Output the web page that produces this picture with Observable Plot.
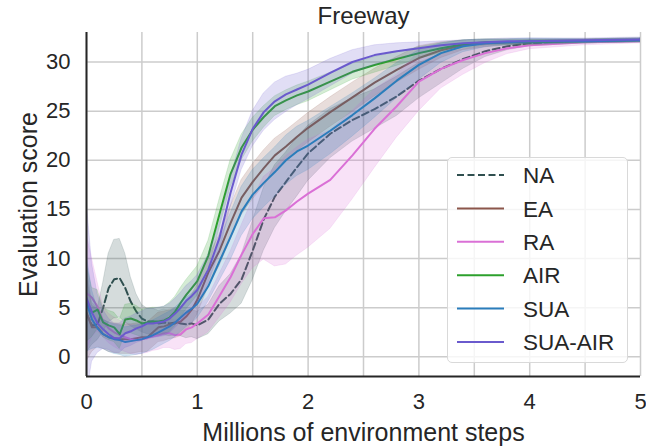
<!DOCTYPE html>
<html><head><meta charset="utf-8">
<script src="https://cdn.jsdelivr.net/npm/d3@7"></script>
<script src="https://cdn.jsdelivr.net/npm/@observablehq/plot@0.6"></script>
<style>
body{margin:0;background:#fff;}
#wrap{position:relative;width:646px;height:446px;font-family:"Liberation Sans",Arial,sans-serif;}
#legend{position:absolute;left:447px;top:157px;width:181px;height:206px;box-sizing:border-box;border:1.3px solid #d9d9d9;border-radius:5px;background:rgba(255,255,255,0.8);}
</style></head><body><div id="wrap"></div>
<script>
const chartTitle = "Freeway";
const xLabel = "Millions of environment steps";
const yLabel = "Evaluation score";
const xTicks = [0, 1, 2, 3, 4, 5];
const xGrid = [0, 0.5, 1, 1.5, 2, 2.5, 3, 3.5, 4, 4.5, 5];
const yTicks = [0, 5, 10, 15, 20, 25, 30];

const steps = [0,0.05,0.1,0.15,0.2,0.25,0.3,0.35,0.4,0.45,0.5,0.55,0.6,0.65,0.7,0.75,0.8,0.85,0.9,0.95,1.0,
  1.1,1.2,1.3,1.4,1.5,1.6,1.7,1.8,1.9,2.0,
  2.2,2.4,2.6,2.8,3.0,3.2,3.4,3.6,3.8,4.0,
  4.5,5.0];

const seriesNames = ["NA", "EA", "RA", "AIR", "SUA", "SUA-AIR"];
const seriesColors = ["#2f4f4f", "#8c564b", "#da70d6", "#2ca02c", "#2a7dbb", "#6a5acd"];

const meanNA = [4.4,3.2,3.3,5.0,7.0,7.9,8.0,7.0,5.6,4.6,3.9,3.6,3.6,3.4,3.5,3.4,3.5,3.4,3.3,3.4,3.2,
  3.8,5.4,6.4,7.9,10.8,14.0,16.3,17.8,19.3,20.7,
  22.7,24.1,25.2,26.5,28.1,29.3,30.3,31.1,31.6,31.9,
  32.1,32.2];
const spreadNA = [4.0,2.0,1.6,2.5,3.5,4.0,4.0,3.5,2.5,1.8,1.4,1.3,1.3,1.3,1.3,1.3,1.3,1.3,1.4,1.4,1.4,
  1.5,1.8,2.0,2.5,3.0,3.2,3.2,3.0,3.0,2.8,
  2.5,2.2,2.0,2.0,1.8,1.5,1.0,0.6,0.4,0.3,
  0.2,0.2];

const meanEA = [4.5,3.0,3.0,2.3,2.0,1.9,1.8,1.8,1.8,1.9,2.0,2.0,2.5,3.0,3.1,3.3,3.4,3.6,4.1,4.8,5.8,
  8.6,10.8,13.6,16.2,17.8,19.2,20.5,21.4,22.4,23.3,
  24.9,26.4,27.9,29.2,30.4,31.2,31.7,31.9,32.0,32.0,
  32.1,32.2];
const spreadEA = [5.0,2.5,2.0,1.5,1.5,1.5,1.5,1.5,1.5,1.5,1.5,1.5,1.5,1.5,1.5,1.5,1.5,1.5,1.5,1.5,1.5,
  1.5,1.6,1.7,1.8,1.8,1.8,1.7,1.6,1.5,1.5,
  1.5,1.5,1.4,1.3,1.2,0.8,0.5,0.4,0.3,0.3,
  0.2,0.2];

const meanRA = [6.5,6.0,5.1,3.6,2.9,2.5,2.2,2.0,1.8,1.7,1.8,1.9,2.1,2.2,2.4,2.4,2.2,2.3,2.8,3.0,3.4,
  4.3,6.2,8.1,10.4,12.5,14.1,14.2,14.9,15.8,16.6,
  18.0,20.5,23.2,25.5,28.0,29.3,30.2,30.9,31.4,31.7,
  32.0,32.1];
const spreadRA = [6.0,4.0,2.5,1.6,1.5,1.5,1.5,1.5,1.5,1.5,1.5,1.5,1.5,1.5,1.5,1.5,1.5,1.5,1.5,1.6,1.6,
  1.8,2.2,2.6,3.0,3.5,4.2,5.0,5.5,5.5,5.5,
  5.0,4.5,4.0,3.2,3.0,2.0,1.5,1.0,0.6,0.4,
  0.3,0.2];

const meanAIR = [5.5,4.5,4.8,3.5,3.2,3.0,2.3,3.8,3.9,3.7,3.4,3.5,3.6,3.6,3.7,4.0,4.6,5.5,6.3,7.0,7.7,
  10.3,14.5,18.6,21.3,23.1,24.4,25.5,26.1,26.6,27.0,
  28.0,29.0,29.7,30.3,30.9,31.4,31.8,32.0,32.0,32.0,
  32.1,32.2];
const spreadAIR = [4.0,2.5,2.0,1.5,1.5,1.5,1.5,1.5,1.5,1.5,1.4,1.4,1.4,1.4,1.4,1.5,1.5,1.5,1.5,1.5,1.5,
  1.5,1.5,1.4,1.3,1.2,1.1,1.0,1.0,1.0,1.0,
  0.9,0.8,0.8,0.7,0.6,0.5,0.4,0.3,0.3,0.3,
  0.2,0.2];

const meanSUA = [5.5,3.8,2.9,2.3,2.0,1.8,1.7,1.5,1.6,1.7,1.8,2.0,2.2,2.5,2.8,3.1,3.5,4.0,4.5,4.9,5.4,
  7.2,9.7,12.2,14.8,16.5,17.7,18.8,20.0,20.9,21.5,
  23.0,24.6,26.3,28.1,29.7,30.9,31.6,31.9,32.0,32.1,
  32.1,32.2];
const spreadSUA = [5.0,3.0,2.0,1.5,1.5,1.5,1.5,1.5,1.5,1.5,1.5,1.5,1.5,1.5,1.5,1.5,1.5,1.5,1.5,1.5,1.5,
  1.6,2.0,2.4,2.5,2.5,2.5,2.5,2.5,2.5,2.5,
  2.4,2.2,2.0,1.8,1.5,1.0,0.6,0.4,0.3,0.3,
  0.2,0.2];

const meanSUAAIR = [6.0,4.5,3.4,2.8,2.3,1.9,1.9,2.4,2.6,2.9,3.1,3.4,3.4,3.5,3.6,3.9,4.4,5.0,5.7,6.2,6.8,
  8.9,12.1,16.7,20.6,23.2,24.9,26.0,26.7,27.2,27.7,
  28.9,30.0,30.7,31.1,31.4,31.7,31.9,32.0,32.1,32.1,
  32.2,32.3];
const spreadSUAAIR = [10.0,5.0,3.0,2.0,1.6,1.5,1.5,1.5,1.5,1.5,1.5,1.5,1.5,1.5,1.5,1.5,1.5,1.5,1.5,1.5,1.5,
  1.5,1.5,1.5,1.6,1.8,1.9,1.9,1.8,1.6,1.5,
  1.4,1.2,1.0,0.8,0.6,0.4,0.3,0.3,0.3,0.3,
  0.2,0.2];

const seriesMeans = [meanNA, meanEA, meanRA, meanAIR, meanSUA, meanSUAAIR];
const seriesSpreads = [spreadNA, spreadEA, spreadRA, spreadAIR, spreadSUA, spreadSUAAIR];

const textColor = "#262626";
const font = '"Liberation Sans", Arial, sans-serif';

const seriesMarks = [];
seriesNames.forEach((name, i) => {
  const rows = steps.map((x, j) => ({
    x, y: seriesMeans[i][j],
    lo: seriesMeans[i][j] - seriesSpreads[i][j],
    hi: seriesMeans[i][j] + seriesSpreads[i][j]
  }));
  seriesMarks.push(Plot.areaY(rows, {x: "x", y1: "lo", y2: "hi", fill: seriesColors[i], fillOpacity: 0.2, stroke: seriesColors[i], strokeOpacity: 0.15, strokeWidth: 1, clip: true}));
  seriesMarks.push(Plot.lineY(rows, {x: "x", y: "y", stroke: seriesColors[i], strokeWidth: 2, strokeDasharray: name === "NA" ? "7,3.5" : null, clip: true}));
});

const chart = Plot.plot({
  width: 646, height: 446,
  marginTop: 32, marginBottom: 70, marginLeft: 86, marginRight: 6,
  x: {domain: [0, 5]},
  y: {domain: [-2, 33]},
  style: {fontFamily: font, color: textColor, background: "white", overflow: "visible"},
  marks: [
    Plot.gridX(xGrid, {stroke: "#cccccc", strokeOpacity: 1, strokeWidth: 1.5}),
    Plot.gridY(yTicks, {stroke: "#cccccc", strokeOpacity: 1, strokeWidth: 1.5}),
    ...seriesMarks,
    Plot.ruleX([0], {stroke: textColor, strokeWidth: 2}),
    Plot.ruleY([-2], {stroke: textColor, strokeWidth: 2}),
    Plot.axisX(xTicks, {tickSize: 0, tickPadding: 17, fontSize: 22, label: null, fill: textColor}),
    Plot.axisY(yTicks, {tickSize: 0, tickPadding: 16, fontSize: 22, label: null, fill: textColor}),
    Plot.text([xLabel], {frameAnchor: "bottom", dy: 64, lineAnchor: "bottom", fontSize: 25, fill: textColor}),
    Plot.text([yLabel], {frameAnchor: "left", dx: -58, rotate: -90, textAnchor: "middle", fontSize: 25, fill: textColor}),
    Plot.text([chartTitle], {frameAnchor: "top", dy: -9, lineAnchor: "bottom", fontSize: 24, fill: textColor})
  ]
});

const wrap = document.getElementById("wrap");
wrap.appendChild(chart);

// legend
const legend = d3.select(wrap).append("div").attr("id", "legend");
const lsvg = legend.append("svg").attr("width", 181).attr("height", 206).style("position", "absolute").style("left", "-1px").style("top", "-1px");
seriesNames.forEach((name, i) => {
  const yy = 18 + i * 33.4;
  lsvg.append("line").attr("x1", 10).attr("x2", 57).attr("y1", yy).attr("y2", yy)
    .attr("stroke", seriesColors[i]).attr("stroke-width", 2)
    .attr("stroke-dasharray", name === "NA" ? "7,3.5" : null);
  lsvg.append("text").attr("x", 76).attr("y", yy).attr("dy", "0.36em")
    .attr("font-size", 22.5).attr("font-family", font).attr("fill", textColor).text(name);
});
</script>
</body></html>
